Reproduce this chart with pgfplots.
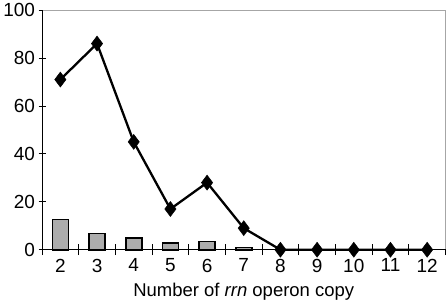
\documentclass[border=0pt]{standalone}
\usepackage{pgfplots}
\pgfplotsset{compat=1.18}
\usepackage{fontspec}
\setmainfont{Liberation Sans}
\begin{document}
\begin{tikzpicture}
\begin{axis}[
  scale only axis,
  width=404pt, height=240pt,
  xmin=1.5, xmax=12.5,
  ymin=0, ymax=100,
  xtick={2,3,4,5,6,7,8,9,10,11,12},
  minor xtick={1.5,2.5,...,12.5},
  ytick={0,20,40,60,80,100},
  major x tick style={draw=none},
  minor x tick style={black, line width=0.8pt},
  major y tick style={black, line width=0.8pt},
  xtick align=center, ytick align=center,
  minor tick length=11pt,
  major tick length=7pt,
  xtick pos=bottom, ytick pos=left,
  axis line style={gray!70, line width=0.6pt},
  tick label style={font=\fontsize{19}{19}\selectfont},
  /pgf/number format/assume math mode=true,
  xticklabel style={yshift=-2pt},
  yticklabel style={xshift=0pt},
  xlabel={Number of \textit{rrn} operon copy},
  xlabel style={font=\fontsize{18.5}{18.5}\selectfont, yshift=-4pt},
  clip=false,
]
\draw[black, line width=1pt] (rel axis cs:0,0) -- (rel axis cs:0,1);
\draw[black, line width=1pt] (rel axis cs:0,0) -- (rel axis cs:1,0);
\addplot[ybar, bar width=16pt, fill=gray!65, draw=black, line width=1.6pt]
  coordinates {(2,12.6) (3,6.7) (4,4.8) (5,2.7) (6,3.4) (7,1.0)};
\addplot[black, line width=2.3pt, mark=diamond*, mark size=7.5pt, mark options={solid, fill=black, line width=0.5pt}]
  coordinates {(2,71) (3,86) (4,45) (5,17) (6,28) (7,9) (8,0) (9,0) (10,0) (11,0) (12,0)};
\end{axis}
\end{tikzpicture}
\end{document}
